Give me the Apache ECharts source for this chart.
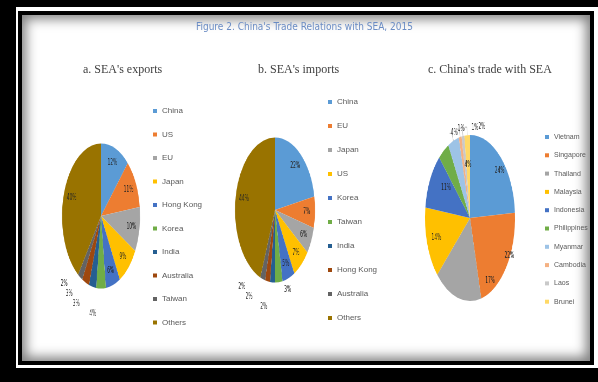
<!DOCTYPE html>
<html>
<head>
<meta charset="utf-8">
<script src="https://cdn.jsdelivr.net/npm/echarts@6/dist/echarts.min.js"></script>
<style>
  html, body { margin: 0; padding: 0; background: #fff; }
  #frame { position: absolute; left: 0; top: 0; width: 598px; height: 382px; box-sizing: border-box;
           border-top: 7px solid #000; border-left: 16px solid #000; border-bottom: 14px solid #000; }
  #inner { position: absolute; left: 18px; top: 11px; width: 576px; height: 354px; box-sizing: border-box;
           border: 4px solid #000; box-shadow: inset 0 0 12px 4px rgba(0,0,0,0.5); }
  #main { position: absolute; left: 0; top: 0; width: 598px; height: 382px; }
  .pie { position: absolute; width: 220px; height: 220px; transform-origin: 50% 50%; pointer-events: none; }
</style>
</head>
<body>
<div id="frame"></div>
<div id="inner"></div>
<div id="main"></div>
<div id="pieA" class="pie"></div>
<div id="pieB" class="pie"></div>
<div id="pieC" class="pie"></div>
<script>
// a. SEA's exports by destination (% share)
const exportPartners = ['China', 'US', 'EU', 'Japan', 'Hong Kong', 'Korea', 'India', 'Australia', 'Taiwan', 'Others'];
const exportShares = [12, 11, 10, 9, 6, 4, 3, 3, 2, 40];

// b. SEA's imports by origin (% share)
const importPartners = ['China', 'EU', 'Japan', 'US', 'Korea', 'Taiwan', 'India', 'Hong Kong', 'Australia', 'Others'];
const importShares = [22, 7, 6, 7, 5, 3, 2, 2, 2, 44];

// c. China's trade with SEA by country (% share)
const seaCountries = ['Vietnam', 'Singapore', 'Thailand', 'Malaysia', 'Indonesia', 'Philippines', 'Myanmar', 'Cambodia', 'Laos', 'Brunei'];
const chinaTradeShares = [24, 22, 17, 14, 11, 4, 4, 1, 1, 2];

const titleText = "Figure 2. China's Trade Relations with SEA, 2015";
const panelTitles = ["a. SEA's exports", "b. SEA's imports", "c. China's trade with SEA"];

// Office-style palettes
const darkPalette = ['#5B9BD5', '#ED7D31', '#A5A5A5', '#FFC000', '#4472C4', '#70AD47', '#255E91', '#9E480E', '#636363', '#997300'];
const lightPalette = ['#5B9BD5', '#ED7D31', '#A5A5A5', '#FFC000', '#4472C4', '#70AD47', '#9DC3E6', '#F4B183', '#C9C9C9', '#FFD966'];

const panels = [
  { el: 'pieA', names: exportPartners, values: exportShares, colors: darkPalette,
    cx: 101, cy: 215.5, rx: 39, ry: 72.5, outside: [5, 6, 7, 8], lines: false,
    legend: { left: 153, top: 107, gap: 15.5, size: 8 }, titleLeft: 83 },
  { el: 'pieB', names: importPartners, values: importShares, colors: darkPalette,
    cx: 275, cy: 209.5, rx: 40, ry: 72.5, outside: [5, 6, 7, 8], lines: false,
    legend: { left: 328, top: 98, gap: 16, size: 8 }, titleLeft: 258 },
  { el: 'pieC', names: seaCountries, values: chinaTradeShares, colors: lightPalette,
    cx: 470, cy: 218, rx: 45, ry: 83, outside: [6, 7, 8, 9], lines: true,
    legend: { left: 545, top: 133, gap: 10.3, size: 7 }, titleLeft: 428 }
];

// Main layer: headings and legends (legends are fed by zero-radius pie series)
const main = echarts.init(document.getElementById('main'), null, { renderer: 'canvas' });
main.setOption({
  animation: false,
  title: [
    { text: titleText, left: 196, top: 22, padding: 0,
      textStyle: { fontSize: 10, fontWeight: 'normal', color: '#6a8cc4',
                   fontFamily: "'Liberation Sans Narrow', 'DejaVu Sans Condensed', sans-serif" } }
  ].concat(panels.map((p, i) => ({
    text: panelTitles[i], left: p.titleLeft, top: 64, padding: 0,
    textStyle: { fontSize: 12, fontWeight: 'normal', color: '#404040', fontFamily: "'Liberation Serif', serif" }
  }))),
  legend: panels.map(p => ({
    orient: 'vertical', left: p.legend.left, top: p.legend.top, padding: 0,
    itemWidth: 4, itemHeight: 4, itemGap: p.legend.gap, icon: 'rect', selectedMode: false,
    textStyle: { fontSize: p.legend.size, lineHeight: 8, color: '#595959',
                 fontFamily: "'Liberation Sans', sans-serif" },
    data: p.names.map((n, i) => ({ name: n, itemStyle: { color: p.colors[i] } }))
  })),
  series: panels.map(p => ({
    type: 'pie', radius: [0, 0], center: [-100, -100], silent: true,
    label: { show: false }, labelLine: { show: false },
    data: p.names.map((n, i) => ({ name: n, value: p.values[i], itemStyle: { color: p.colors[i] } }))
  }))
});

// Pie layers: each drawn as a circle and stretched into an ellipse
panels.forEach(p => {
  const box = document.getElementById(p.el);
  box.style.left = (p.cx - 110) + 'px';
  box.style.top = (p.cy - 110) + 'px';
  box.style.transform = 'scaleX(' + (p.rx / p.ry) + ')';
  const chart = echarts.init(box, null, { renderer: 'canvas' });
  const labelFont = { fontSize: 8, color: '#262626', fontFamily: "'DejaVu Sans', sans-serif" };
  chart.setOption({
    animation: false,
    series: [
      { type: 'pie', radius: p.ry, center: ['50%', '50%'], silent: true,
        label: { show: false }, labelLine: { show: false },
        itemStyle: { borderWidth: 0 },
        data: p.names.map((n, i) => ({ name: n, value: p.values[i], itemStyle: { color: p.colors[i] } })) },
      // label carrier: same slices, transparent ring so inside labels sit near the rim
      { type: 'pie', radius: [p.ry * 0.5, p.ry], center: ['50%', '50%'], silent: true,
        percentPrecision: 0,
        avoidLabelOverlap: !p.lines,
        labelLayout: p.lines ? { moveOverlap: 'shiftX' } : undefined,
        itemStyle: { color: 'rgba(0,0,0,0)', borderWidth: 0 },
        label: Object.assign({ formatter: '{d}%' }, labelFont),
        labelLine: { show: p.lines, length: 8, length2: 4, lineStyle: { color: '#a6a6a6', width: 0.8 } },
        data: p.names.map((n, i) => {
          const out = p.outside.indexOf(i) >= 0;
          return { name: n, value: p.values[i],
                   label: { position: out ? 'outside' : 'inside', padding: out && p.lines ? [0, 6] : 0 },
                   labelLine: { show: out && p.lines } };
        }) }
    ]
  });
});
</script>
</body>
</html>
